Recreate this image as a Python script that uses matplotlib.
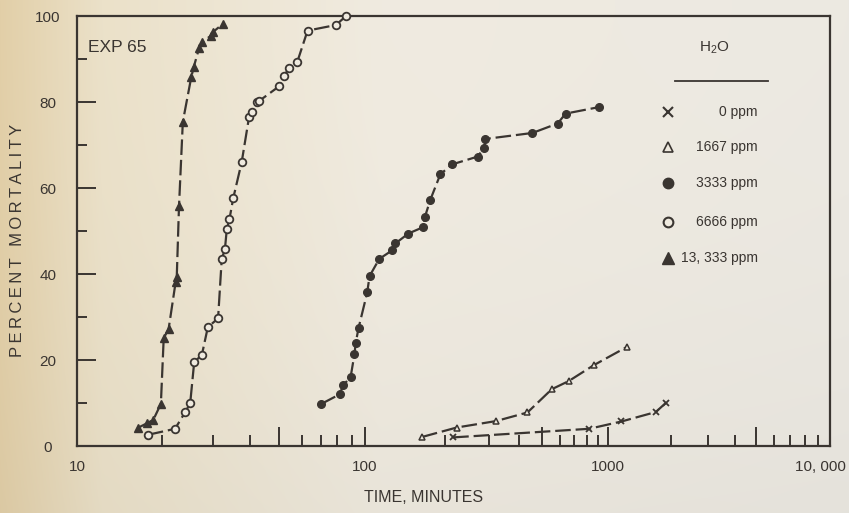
import numpy as np
import matplotlib
matplotlib.use("Agg")
import matplotlib.pyplot as plt
import matplotlib.transforms as mtransforms
from matplotlib.ticker import FixedLocator, FixedFormatter, NullFormatter

# ---- data: time to reach a given percent mortality, by H2O level ----
t_0ppm = [215, 818, 1160, 1694, 1901]
m_0ppm = [2.0, 4.0, 5.7, 7.9, 10.1]

t_1667 = [163, 222, 320, 434, 554, 660, 860, 1238]
m_1667 = [2.1, 4.3, 5.8, 7.8, 13.2, 15.1, 18.8, 23.1]

t_3333 = [70.3, 81.4, 84.0, 89.1, 92.0, 92.9, 95.1, 102.2, 104.2, 113.0, 126.0,
          129.5, 144.7, 164.6, 167.2, 175.4, 191.6, 213.0, 268.9, 286.6, 289.0,
          456.0, 588.6, 639.0, 906.6]
m_3333 = [9.8, 12.0, 14.2, 16.0, 21.4, 23.9, 27.4, 35.7, 39.5, 43.5, 45.5,
          47.1, 49.4, 50.9, 53.3, 57.3, 63.2, 65.5, 67.3, 69.4, 71.4,
          72.8, 75.0, 77.3, 78.8]

t_6666 = [17.9, 22.2, 24.0, 25.0, 25.8, 27.4, 28.7, 31.1, 32.0, 32.8, 33.3,
          34.0, 35.0, 37.4, 39.6, 40.7, 42.2, 43.0, 50.3, 52.1, 54.3, 58.0,
          62.9, 79.0, 85.9]
m_6666 = [2.6, 4.0, 7.8, 9.9, 19.5, 21.2, 27.6, 29.7, 43.5, 45.7, 50.5,
          52.8, 57.6, 66.0, 76.4, 77.6, 79.9, 80.3, 83.7, 86.0, 87.9, 89.4,
          96.6, 97.9, 100.0]

t_13333 = [16.5, 17.8, 18.7, 19.85, 20.3, 21.1, 22.3, 22.5, 22.9, 23.6, 25.2,
           25.7, 26.8, 27.4, 29.4, 29.8, 32.2]
m_13333 = [4.2, 5.3, 6.1, 9.8, 25.1, 27.2, 38.1, 39.3, 55.7, 75.4, 85.7,
           88.1, 92.5, 93.9, 95.4, 96.2, 98.1]

legend_labels = ["0 ppm", "1667 ppm", "3333 ppm", "6666 ppm", "13, 333 ppm"]
x_major = [10, 50, 100, 500, 1000, 5000, 10000]
x_major_labels = ["10", "", "100", "", "1000", "", "10, 000"]
x_minor = [20, 30, 40, 60, 70, 80, 90, 200, 300, 400, 600, 700, 800, 900,
           2000, 3000, 4000, 6000, 7000, 8000, 9000]
y_major = [0, 20, 40, 60, 80, 100]
y_minor = [10, 30, 50, 70, 90]

INK = "#3a3531"
PAPER = "#efeadf"
plt.rcParams["font.family"] = ["Liberation Sans", "DejaVu Sans"]

W, H = 849, 513
fig = plt.figure(figsize=(W / 100, H / 100), dpi=100)

# warm paper background
bg = fig.add_axes([0, 0, 1, 1], zorder=-5)
xs = np.linspace(0, 1, W)
ys = np.linspace(0, 1, H)
stops = [0.0, 0.12, 0.45, 1.0]
cols = np.array([[226, 207, 168], [235, 225, 201], [240, 235, 224], [236, 233, 226]]) / 255.0
row = np.stack([np.interp(xs, stops, cols[:, k]) for k in range(3)], axis=1)
img = np.repeat(row[None, :, :], H, axis=0)
shade = 1 - 0.03 * (ys[:, None] ** 2)
img = np.clip(img * shade[:, :, None], 0, 1)
bg.imshow(img, aspect="auto", extent=[0, 1, 0, 1], origin="upper")
bg.set_axis_off()

L, R, T, B = 77, 830, 16, 446
ax = fig.add_axes([L / W, 1 - B / H, (R - L) / W, (B - T) / H])
ax.set_facecolor("none")

# log-like time axis; later decades are drawn slightly narrower
K = (268.77, 55.03, -44.57, 8.075)
_u_grid = np.linspace(-0.5, 4.5, 20001)


def _poly(u):
    return K[0] * u + K[1] * u ** 2 + K[2] * u ** 3 + K[3] * u ** 4


_p_grid = _poly(_u_grid)


def fwd(x):
    u = np.log10(np.clip(np.asarray(x, dtype=float), 1e-6, None)) - 1.0
    return _poly(np.clip(u, -0.5, 4.5))


def inv(p):
    u = np.interp(np.asarray(p, dtype=float), _p_grid, _u_grid)
    return 10 ** (u + 1.0)


ax.set_xscale("function", functions=(fwd, inv))
ax.set_xlim(10, 10000)
ax.set_ylim(0, 100)

dash = (0, (7, 2.2))
line_kw = dict(color=INK, lw=1.6, linestyle=dash, zorder=2)

ax.plot(t_0ppm, m_0ppm, **line_kw)
ax.plot(t_0ppm, m_0ppm, ls="none", marker="x", ms=5, mew=1.3, color=INK, zorder=3)

ax.plot(t_1667, m_1667, **line_kw)
ax.plot(t_1667, m_1667, ls="none", marker="^", ms=5, mew=1.1, mfc=PAPER, mec=INK, zorder=3)

ax.plot(t_3333, m_3333, **line_kw)
ax.plot(t_3333, m_3333, ls="none", marker="o", ms=5.5, color=INK, zorder=3)

ax.plot(t_6666, m_6666, **line_kw)
ax.plot(t_6666, m_6666, ls="none", marker="o", ms=5.5, mew=1.3, mfc=PAPER, mec=INK,
        zorder=3, clip_on=False)

ax.plot(t_13333, m_13333, **line_kw)
ax.plot(t_13333, m_13333, ls="none", marker="^", ms=6, color=INK, zorder=3)

# axes styling
for s in ax.spines.values():
    s.set_color(INK)
    s.set_linewidth(1.6)

ax.xaxis.set_major_locator(FixedLocator(x_major))
ax.xaxis.set_major_formatter(FixedFormatter(x_major_labels))
ax.xaxis.set_minor_locator(FixedLocator(x_minor))
ax.xaxis.set_minor_formatter(NullFormatter())
ax.yaxis.set_major_locator(FixedLocator(y_major))
ax.yaxis.set_minor_locator(FixedLocator(y_minor))
ax.yaxis.set_minor_formatter(NullFormatter())

ax.tick_params(which="both", direction="in", color=INK, width=1.4, labelcolor=INK,
               labelsize=11, top=False, right=False)
ax.tick_params(axis="x", which="major", length=14, pad=10)
ax.tick_params(axis="x", which="minor", length=8)
ax.tick_params(axis="y", which="major", length=14, pad=21)
ax.tick_params(axis="y", which="minor", length=7.5)
for lbl in ax.get_yticklabels():
    lbl.set_horizontalalignment("center")

# keep the last time label inside the figure edge
last = ax.get_xticklabels()[-1]
last.set_transform(last.get_transform()
                   + mtransforms.ScaledTranslation(-10 / 100, 0, fig.dpi_scale_trans))

ax.text(0.0146, 0.926, "EXP 65", transform=ax.transAxes, ha="left", va="center",
        fontsize=12.5, color=INK)

fig.text(424 / W, 16 / H, "TIME, MINUTES", ha="center", va="center", fontsize=11.5,
         color=INK)
ylab = "\u2009 \u2009".join("\u2009".join(word) for word in "PERCENT MORTALITY".split())
fig.text(18 / W, 1 - 240 / H, ylab, rotation=90, ha="center",
         va="center", fontsize=12, color=INK)

# key
ax.text(0.847, 0.926, r"H$_\mathregular{2}$O", transform=ax.transAxes, ha="center",
        va="center", fontsize=11, color=INK)
ax.plot([0.794, 0.918], [0.849, 0.849], transform=ax.transAxes, color=INK, lw=1.3,
        clip_on=False)
key_y = [0.777, 0.695, 0.612, 0.521, 0.437]
key_style = [
    dict(marker="x", ms=7, mew=1.5, color=INK),
    dict(marker="^", ms=7, mew=1.2, mfc=PAPER, mec=INK),
    dict(marker="o", ms=7.5, color=INK),
    dict(marker="o", ms=7, mew=1.5, mfc=PAPER, mec=INK),
    dict(marker="^", ms=8, color=INK),
]
for yy, lab, st in zip(key_y, legend_labels, key_style):
    ax.plot([0.785], [yy], transform=ax.transAxes, ls="none", clip_on=False, **st)
    ax.text(0.904, yy, lab, transform=ax.transAxes, ha="right", va="center",
            fontsize=10, color=INK)

fig.savefig("out.png", dpi=100)
